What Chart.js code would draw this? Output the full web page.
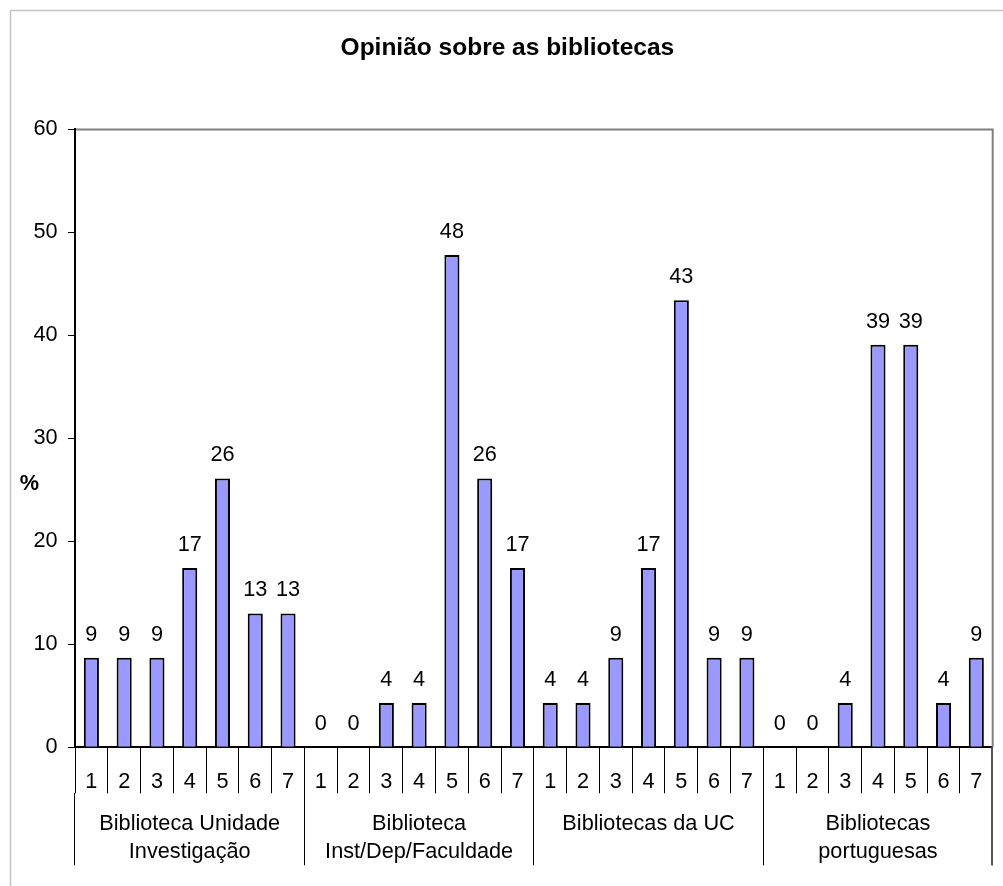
<!DOCTYPE html>
<html>
<head>
<meta charset="utf-8">
<title>Opinião sobre as bibliotecas</title>
<script src="https://cdn.jsdelivr.net/npm/chart.js@4.4.1/dist/chart.umd.min.js"></script>
<style>
    html, body { margin: 0; padding: 0; background: #fff; }
    #opinionChart { display: block; }
</style>
</head>
<body>
<canvas id="opinionChart" width="1003" height="886"></canvas>
<script>
const chartTitle = 'Opinião sobre as bibliotecas';
const axisUnit = '%';
const scaleLabels = ['1', '2', '3', '4', '5', '6', '7'];
const groupNames = [
    ['Biblioteca Unidade', 'Investigação'],
    ['Biblioteca', 'Inst/Dep/Faculdade'],
    ['Bibliotecas da UC'],
    ['Bibliotecas', 'portuguesas']
];

// % of answers for each scale point, one array per type of library
const unidadeInvestigacao = [8.7, 8.7, 8.7, 17.4, 26.1, 13.0, 13.0];
const instDepFaculdade = [0, 0, 4.3, 4.3, 47.8, 26.1, 17.4];
const bibliotecasUC = [4.3, 4.3, 8.7, 17.4, 43.4, 8.7, 8.7];
const bibliotecasPortuguesas = [0, 0, 4.3, 39.1, 39.1, 4.3, 8.7];

const yMin = 0;
const yMax = 60;
const yStep = 10;

const FONT = "'Liberation Sans', Arial, sans-serif";
const FONT_SIZE = 21.7;

const groups = [unidadeInvestigacao, instDepFaculdade, bibliotecasUC, bibliotecasPortuguesas];
const barLabels = groups.flatMap(() => scaleLabels);
const barValues = groups.flat();

// white page, grey chart frame, plot border and the "%" label
const frame = {
    id: 'frame',
    beforeDraw(chart) {
        const ctx = chart.ctx;
        ctx.save();
        ctx.fillStyle = '#fff';
        ctx.fillRect(0, 0, chart.width, chart.height);
        ctx.strokeStyle = '#c4c4c4';
        ctx.lineWidth = 1.5;
        ctx.beginPath();
        ctx.moveTo(10.5, chart.height);
        ctx.lineTo(10.5, 10.5);
        ctx.lineTo(chart.width, 10.5);
        ctx.stroke();
        ctx.restore();
    },
    afterDraw(chart) {
        const ctx = chart.ctx;
        const a = chart.chartArea;
        ctx.save();
        ctx.strokeStyle = '#808080';
        ctx.lineWidth = 2;
        ctx.beginPath();
        ctx.moveTo(a.left + 1, a.top);
        ctx.lineTo(a.right, a.top);
        ctx.lineTo(a.right, a.bottom);
        ctx.stroke();
        // right edge of the category rows
        ctx.strokeStyle = '#555';
        ctx.fillStyle = '#555';
        ctx.fillRect(Math.floor(a.right) - 1, a.bottom, 2, 118);

        ctx.fillStyle = '#000';
        ctx.font = 'bold ' + FONT_SIZE + 'px ' + FONT;
        ctx.textAlign = 'center';
        ctx.textBaseline = 'middle';
        ctx.fillText(axisUnit, 29.5, (a.top + a.bottom) / 2 + 46);
        ctx.restore();
    }
};

// rounded value above each bar
const valueLabels = {
    id: 'valueLabels',
    afterDatasetsDraw(chart) {
        const ctx = chart.ctx;
        const meta = chart.getDatasetMeta(0);
        ctx.save();
        ctx.fillStyle = '#000';
        ctx.font = FONT_SIZE + 'px ' + FONT;
        ctx.textAlign = 'center';
        ctx.textBaseline = 'middle';
        meta.data.forEach((bar, i) => {
            ctx.fillText(String(Math.round(barValues[i])), bar.x, bar.y - 23);
        });
        ctx.restore();
    }
};

new Chart(document.getElementById('opinionChart').getContext('2d'), {
    type: 'bar',
    data: {
        labels: barLabels,
        datasets: [{
            data: barValues,
            backgroundColor: '#9999ff',
            borderColor: '#000',
            borderWidth: 2,
            barPercentage: 0.46,
            categoryPercentage: 1.0
        }]
    },
    options: {
        responsive: false,
        animation: false,
        layout: { padding: { left: 22, right: 10.3, top: 0, bottom: 0 } },
        plugins: {
            legend: { display: false },
            tooltip: { enabled: false },
            title: {
                display: true,
                text: chartTitle,
                color: '#000',
                font: { family: FONT, size: 24.5, weight: 'bold', lineHeight: 1.2 },
                padding: { top: 34, bottom: 66 }
            }
        },
        scales: {
            x: {
                type: 'category',
                position: 'bottom',
                weight: 0,
                offset: true,
                grid: { offset: true, drawOnChartArea: false, tickLength: 46, color: '#000', lineWidth: 1 },
                border: { display: true, color: '#000', width: 2 },
                ticks: {
                    color: '#000',
                    font: { family: FONT, size: FONT_SIZE, lineHeight: 1.2 },
                    padding: -24.5,
                    autoSkip: false,
                    maxRotation: 0
                },
                afterFit: scale => { scale.height = 46; }
            },
            x2: {
                type: 'category',
                axis: 'x',
                position: 'bottom',
                weight: 1,
                labels: groupNames,
                offset: true,
                grid: { offset: true, drawOnChartArea: false, tickLength: 72, color: '#000', lineWidth: 1 },
                border: { display: false },
                ticks: {
                    color: '#000',
                    font: { family: FONT, size: FONT_SIZE, lineHeight: '28px' },
                    padding: -55.3,
                    autoSkip: false,
                    maxRotation: 0
                },
                afterFit: scale => { scale.height = 92.7; }
            },
            y: {
                min: yMin,
                max: yMax,
                grid: { drawOnChartArea: false, tickLength: 7, color: '#000', lineWidth: 1 },
                border: { display: true, color: '#000', width: 2 },
                ticks: {
                    stepSize: yStep,
                    color: '#000',
                    font: { family: FONT, size: FONT_SIZE },
                    padding: 10.5
                },
                afterFit: scale => { scale.width = 53; }
            }
        }
    },
    plugins: [frame, valueLabels]
});
</script>
</body>
</html>
